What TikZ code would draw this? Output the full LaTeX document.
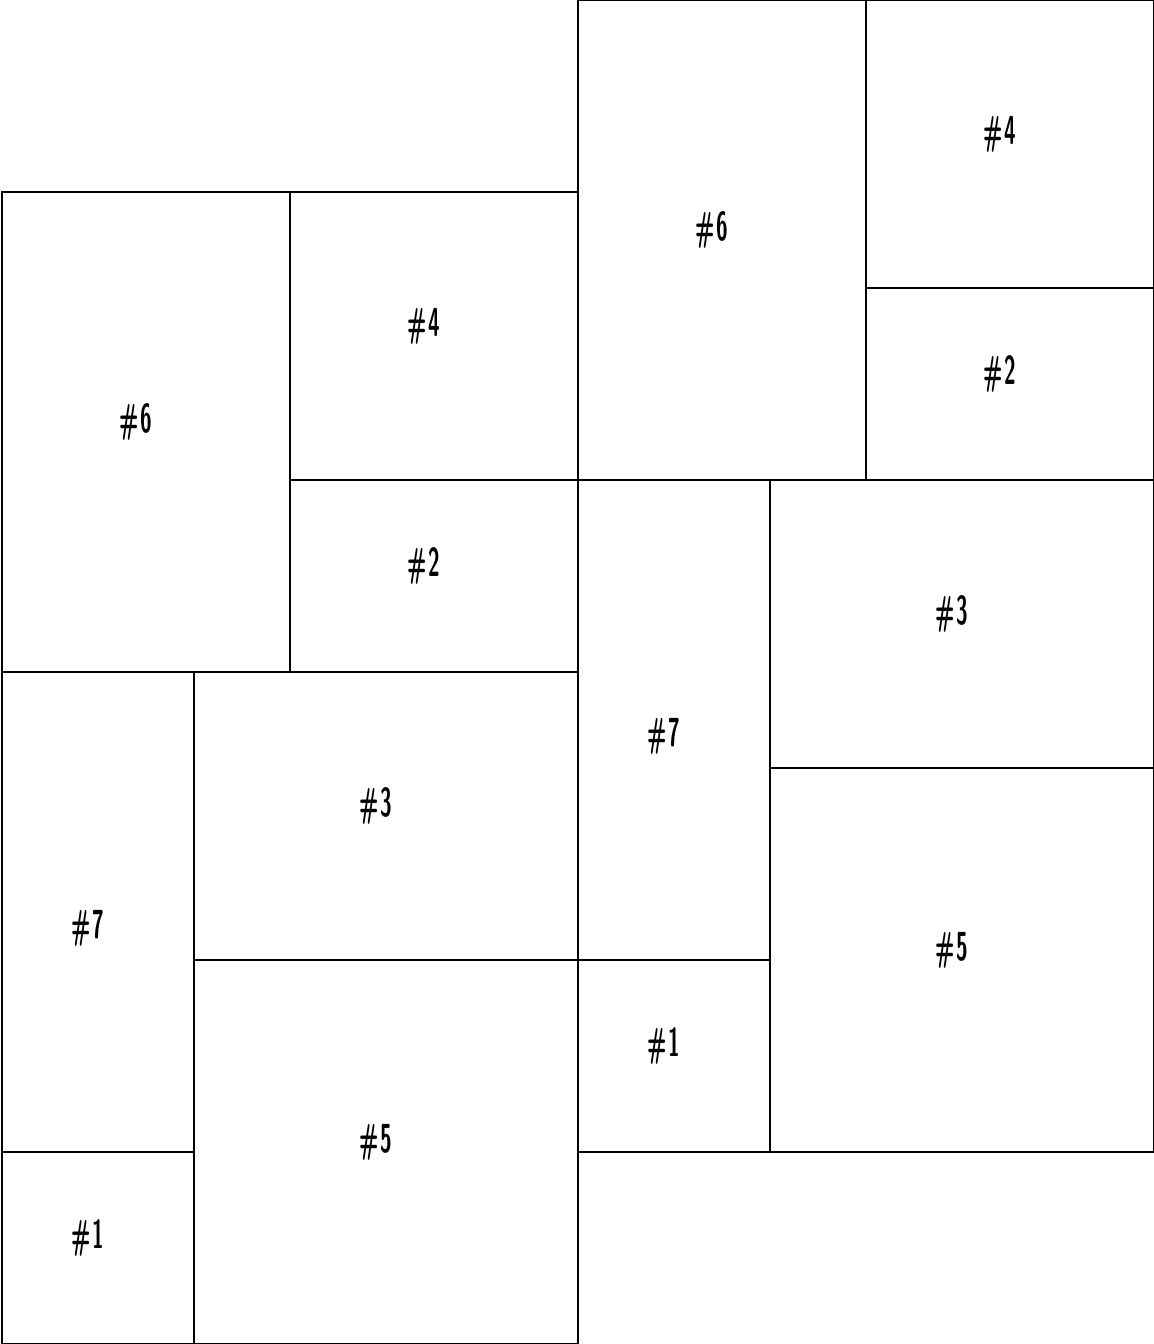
\documentclass[tikz,border=0pt]{standalone}
\usetikzlibrary{positioning}

\begin{document}
\begin{tikzpicture}[
    x=1cm, y=-1cm,
    tile/.style={draw, line width=0.6pt},
    tag/.style={font=\sffamily\bfseries\large, inner sep=0pt, xshift=-0.11cm, yshift=0.1cm}
]
    \useasboundingbox (-0.02,0) rectangle (12,14);

    % left block
    \begin{scope}
        \draw[tile] (0,2) rectangle (3,7);
        \draw[tile] (3,2) rectangle (6,5);
        \draw[tile] (3,5) rectangle (6,7);
        \draw[tile] (0,7) rectangle (2,12);
        \draw[tile] (2,7) rectangle (6,10);
        \draw[tile] (2,10) rectangle (6,14);
        \draw[tile] (0,12) rectangle (2,14);
        \node[tag] (l6) at (1.5,4.5) {\scalebox{0.52}[1]{\#\kern1pt6}};
        \node[tag] (l4) at (4.5,3.5) {\scalebox{0.52}[1]{\#\kern1pt4}};
        \node[tag] (l2) at (4.5,6) {\scalebox{0.52}[1]{\#\kern1pt2}};
        \node[tag] (l7) at (1,9.77) {\scalebox{0.52}[1]{\#\kern1pt7}};
        \node[tag] (l3) at (4,8.5) {\scalebox{0.52}[1]{\#\kern1pt3}};
        \node[tag] (l5) at (4,12) {\scalebox{0.52}[1]{\#\kern1pt5}};
        \node[tag] (l1) at (1,13) {\scalebox{0.52}[1]{\#\kern1pt1}};
    \end{scope}

    % right block, same layout moved up
    \begin{scope}[shift={(6,-2)}]
        \draw[tile] (0,2) rectangle (3,7);
        \draw[tile] (3,2) rectangle (6,5);
        \draw[tile] (3,5) rectangle (6,7);
        \draw[tile] (0,7) rectangle (2,12);
        \draw[tile] (2,7) rectangle (6,10);
        \draw[tile] (2,10) rectangle (6,14);
        \draw[tile] (0,12) rectangle (2,14);
        \node[tag] (r6) at (1.5,4.5) {\scalebox{0.52}[1]{\#\kern1pt6}};
        \node[tag] (r4) at (4.5,3.5) {\scalebox{0.52}[1]{\#\kern1pt4}};
        \node[tag] (r2) at (4.5,6) {\scalebox{0.52}[1]{\#\kern1pt2}};
        \node[tag] (r7) at (1,9.77) {\scalebox{0.52}[1]{\#\kern1pt7}};
        \node[tag] (r3) at (4,8.5) {\scalebox{0.52}[1]{\#\kern1pt3}};
        \node[tag] (r5) at (4,12) {\scalebox{0.52}[1]{\#\kern1pt5}};
        \node[tag] (r1) at (1,13) {\scalebox{0.52}[1]{\#\kern1pt1}};
    \end{scope}
\end{tikzpicture}
\end{document}
